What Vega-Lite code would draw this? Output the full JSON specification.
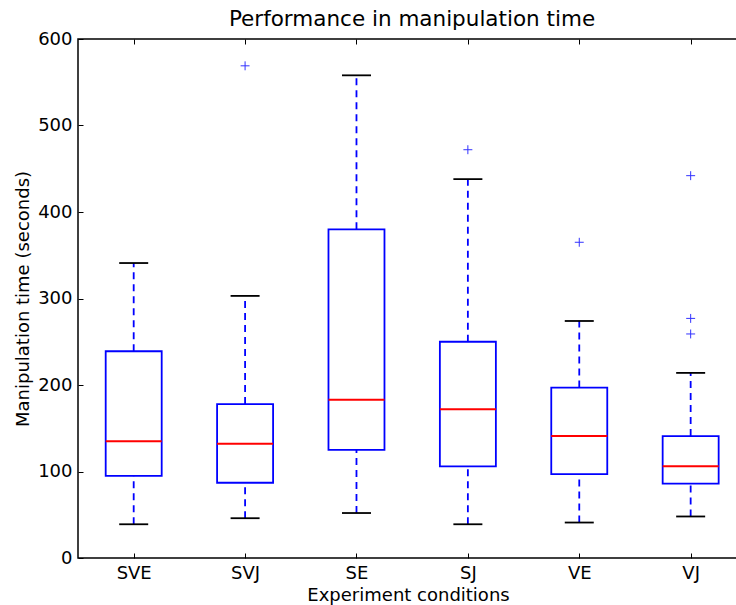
{
  "$schema": "https://vega.github.io/schema/vega-lite/v6.json",
  "autosize": {"type": "none"},
  "padding": {"left": 78, "top": 39, "right": 0, "bottom": 47},
  "width": 660,
  "height": 519,
  "background": "white",
  "config": {
    "font": "DejaVu Sans",
    "view": {"stroke": "black", "strokeWidth": 1.5},
    "axis": {"domain": false, "grid": false, "labelFontSize": 18, "titleFontSize": 18, "titleFontWeight": "normal", "labelColor": "black", "titleColor": "black", "tickColor": "black", "tickWidth": 1, "tickSize": -5, "labelPadding": 11, "labelFont": "DejaVu Sans", "titleFont": "DejaVu Sans"}
  },
  "title": {"text": "Performance in manipulation time", "fontSize": 21.5, "fontWeight": "normal", "font": "DejaVu Sans", "color": "black", "offset": 0, "dx": 4},
  "datasets": {
    "boxes": [
      {"cond": "SVE", "pos": 1, "wlo": 39, "q1": 95, "med": 135, "q3": 239, "whi": 341},
      {"cond": "SVJ", "pos": 2, "wlo": 46, "q1": 87, "med": 132, "q3": 178, "whi": 303},
      {"cond": "SE", "pos": 3, "wlo": 52, "q1": 125, "med": 183, "q3": 380, "whi": 558},
      {"cond": "SJ", "pos": 4, "wlo": 39, "q1": 106, "med": 172, "q3": 250, "whi": 438},
      {"cond": "VE", "pos": 5, "wlo": 41, "q1": 97, "med": 141, "q3": 197, "whi": 274},
      {"cond": "VJ", "pos": 6, "wlo": 48, "q1": 86, "med": 106, "q3": 141, "whi": 214}
    ],
    "outliers": [
      {"cond": "SVJ", "pos": 2, "value": 569},
      {"cond": "SJ", "pos": 4, "value": 472},
      {"cond": "VE", "pos": 5, "value": 365},
      {"cond": "VJ", "pos": 6, "value": 442},
      {"cond": "VJ", "pos": 6, "value": 277},
      {"cond": "VJ", "pos": 6, "value": 259}
    ]
  },
  "resolve": {"axis": {"x": "independent"}},
  "layer": [
    {
      "data": {"name": "boxes"},
      "mark": {"type": "rule", "color": "#0000ff", "strokeWidth": 1.8, "strokeDash": [7, 5]},
      "encoding": {
        "x": {"field": "pos", "type": "quantitative", "scale": {"domain": [0.5, 6.425], "nice": false, "zero": false, "padding": 0},
          "axis": {"orient": "bottom", "values": [1, 2, 3, 4, 5, 6], "title": "Experiment conditions", "titlePadding": 4,
            "labelExpr": "['SVE','SVJ','SE','SJ','VE','VJ'][datum.value-1]"}},
        "y": {"field": "wlo", "type": "quantitative", "scale": {"domain": [0, 600], "nice": false, "padding": 0},
          "axis": {"values": [0, 100, 200, 300, 400, 500, 600], "title": "Manipulation time (seconds)", "titlePadding": 5}},
        "y2": {"field": "q1"}
      }
    },
    {
      "data": {"name": "boxes"},
      "mark": {"type": "rule", "color": "#0000ff", "strokeWidth": 1.8, "strokeDash": [7, 5]},
      "encoding": {
        "x": {"field": "pos", "type": "quantitative", "axis": {"orient": "top", "values": [1, 2, 3, 4, 5, 6], "labels": false, "title": null}},
        "y": {"field": "q3", "type": "quantitative"},
        "y2": {"field": "whi"}
      }
    },
    {
      "data": {"name": "boxes"},
      "mark": {"type": "bar", "size": 56, "fill": "white", "fillOpacity": 0, "stroke": "#0000ff", "strokeWidth": 1.8},
      "encoding": {
        "x": {"field": "pos", "type": "quantitative", "axis": null},
        "y": {"field": "q1", "type": "quantitative"},
        "y2": {"field": "q3"}
      }
    },
    {
      "data": {"name": "boxes"},
      "mark": {"type": "tick", "orient": "horizontal", "size": 56, "thickness": 2, "color": "#ff0000", "opacity": 1},
      "encoding": {
        "x": {"field": "pos", "type": "quantitative", "axis": null},
        "y": {"field": "med", "type": "quantitative"}
      }
    },
    {
      "data": {"name": "boxes"},
      "mark": {"type": "tick", "orient": "horizontal", "size": 29, "thickness": 1.8, "color": "black", "opacity": 1},
      "encoding": {
        "x": {"field": "pos", "type": "quantitative", "axis": null},
        "y": {"field": "wlo", "type": "quantitative"}
      }
    },
    {
      "data": {"name": "boxes"},
      "mark": {"type": "tick", "orient": "horizontal", "size": 29, "thickness": 1.8, "color": "black", "opacity": 1},
      "encoding": {
        "x": {"field": "pos", "type": "quantitative", "axis": null},
        "y": {"field": "whi", "type": "quantitative"}
      }
    },
    {
      "data": {"name": "outliers"},
      "mark": {"type": "point", "shape": "M-1,0H1M0,-1V1", "filled": false, "size": 80, "stroke": "#3333ff", "strokeWidth": 1, "opacity": 1},
      "encoding": {
        "x": {"field": "pos", "type": "quantitative", "axis": null},
        "y": {"field": "value", "type": "quantitative"}
      }
    }
  ]
}
